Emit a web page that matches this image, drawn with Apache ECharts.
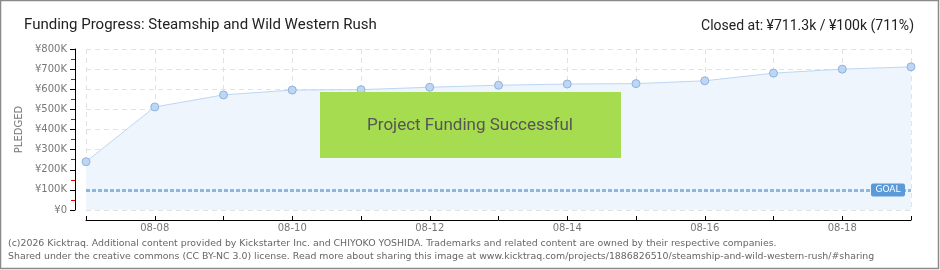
<!DOCTYPE html>
<html><head><meta charset="utf-8">
<script src="https://cdn.jsdelivr.net/npm/echarts@6/dist/echarts.min.js"></script>
<style>html,body{margin:0;padding:0;background:#fff}#c{width:940px;height:270px}</style>
</head><body><div id="c"></div>
<script>
var categories = ['08-07','08-08','08-09','08-10','08-11','08-12','08-13','08-14','08-15','08-16','08-17','08-18','08-19'];
var pledged = [240000, 512000, 572000, 596000, 598000, 610000, 620000, 626000, 628000, 642000, 680000, 700000, 711300];
var goal = 100000;

var chart = echarts.init(document.getElementById('c'), null, {renderer:'canvas'});
var lbl = {color:'#777', fontFamily:'DejaVu Sans', fontSize:10};
var titleFont = {fontFamily:'Roboto', fontWeight:'normal', fontSize:15, color:'#222'};
chart.setOption({
  animation:false,
  title:[
    {text:'Funding Progress: Steamship and Wild Western Rush', left:19, top:13, textStyle:titleFont},
    {text:'Closed at: ¥711.3k / ¥100k (711%)', right:21, top:14, textStyle:Object.assign({}, titleFont, {fontSize:14})}
  ],
  grid:{left:86, right:29, top:49, bottom:60},
  xAxis:{type:'category', data:categories, boundaryGap:false, offset:10,
    axisLine:{onZero:false, lineStyle:{color:'#000', width:1}},
    axisTick:{show:true, interval:0, length:4, inside:true, lineStyle:{color:'#000'}},
    axisLabel:Object.assign({interval:function(i){return i%2===1;}, margin:3}, lbl),
    splitLine:{show:true, interval:0, lineStyle:{color:'#e2e2e2', type:[5,4]}}
  },
  yAxis:{type:'value', min:0, max:800000, interval:100000, offset:11,
    name:'PLEDGED', nameLocation:'middle', nameGap:49, nameRotate:90,
    nameTextStyle:{color:'#777', fontFamily:'DejaVu Sans', fontSize:10},
    axisLine:{show:true, lineStyle:{color:'#000'}},
    axisTick:{show:true, length:5, lineStyle:{color:'#000'}},
    minorTick:{show:true, splitNumber:2, length:4, lineStyle:{color:'#e00000', width:1}},
    axisLabel:Object.assign({margin:8, formatter:function(v){return v===0?'¥0':'¥'+(v/1000)+'K';}}, lbl),
    splitLine:{show:true, lineStyle:{color:'#e2e2e2', type:[5,4]}}
  },
  series:[{
    type:'line', data:pledged, symbol:'circle', symbolSize:8,
    itemStyle:{color:'#bcd6f3', borderColor:'#90b2dc', borderWidth:1},
    lineStyle:{color:'#bcd6f3', width:1},
    areaStyle:{color:'#eef5fd', opacity:1},
    markLine:{silent:true, symbol:'none', label:{show:false},
      lineStyle:{color:'#8cb6e4', width:3, type:[4,2]},
      data:[{yAxis:goal}]},
    markPoint:{silent:true, data:[{coord:[12, goal], symbol:'path://M2,0 L32,0 Q34,0 34,2 L34,11 Q34,13 32,13 L2,13 Q0,13 0,11 L0,2 Q0,0 2,0 Z', symbolSize:[34,13], symbolOffset:[-23,0],
      itemStyle:{color:'#5b9ad8'}, label:{show:true, formatter:'GOAL', color:'#fff', fontFamily:'DejaVu Sans', fontSize:9}}]}
  }],
  graphic:[
    {type:'rect', shape:{x:0.5, y:0.5, width:938, height:268}, style:{fill:'none', stroke:'#8a8a8a', lineWidth:1.5}, z:200, silent:true},
    {type:'rect', shape:{x:320, y:92, width:301, height:66}, style:{fill:'#a6dc50'}, z:100},
    {type:'text', x:470, y:126, style:{text:'Project Funding Successful', fill:'#555', font:'17px Roboto', align:'center', verticalAlign:'middle', textShadowColor:'#fff', textShadowOffsetX:1, textShadowOffsetY:1, textShadowBlur:0}, z:101},
    {type:'text', left:8, top:237, style:{text:'(c)2026 Kicktraq. Additional content provided by Kickstarter Inc. and CHIYOKO YOSHIDA. Trademarks and related content are owned by their respective companies.\nShared under the creative commons (CC BY-NC 3.0) license. Read more about sharing this image at www.kicktraq.com/projects/1886826510/steamship-and-wild-western-rush/#sharing', fill:'#666', font:'9.4px "DejaVu Sans"', lineHeight:13}}
  ]
});
</script></body></html>
